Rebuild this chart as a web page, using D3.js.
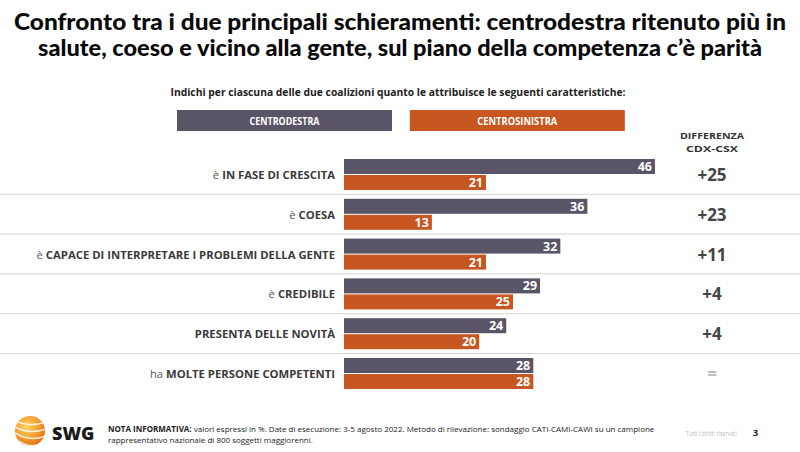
<!DOCTYPE html>
<html><head><meta charset="utf-8">
<script src="https://cdn.jsdelivr.net/npm/d3@7/dist/d3.min.js"></script>
<style>body{margin:0;background:#fff}svg{display:block}</style>
</head><body><svg id="c" width="800" height="452"></svg>
<script>
const categories = [
  {pre:"è ", main:"IN FASE DI CRESCITA"},
  {pre:"è ", main:"COESA"},
  {pre:"è ", main:"CAPACE DI INTERPRETARE I PROBLEMI DELLA GENTE"},
  {pre:"è ", main:"CREDIBILE"},
  {pre:"", main:"PRESENTA DELLE NOVITÀ"},
  {pre:"ha ", main:"MOLTE PERSONE COMPETENTI"}
];
const centrodestra = [46, 36, 32, 29, 24, 28];
const centrosinistra = [21, 13, 21, 25, 20, 28];
const differenze = ["+25", "+23", "+11", "+4", "+4", "="];
const seriesNames = ["CENTRODESTRA", "CENTROSINISTRA"];
const titleLines = ["Confronto tra i due principali schieramenti: centrodestra ritenuto più in",
                    "salute, coeso e vicino alla gente, sul piano della competenza c’è parità"];
const subtitle = "Indichi per ciascuna delle due coalizioni quanto le attribuisce le seguenti caratteristiche:";
const diffHeader = ["DIFFERENZA", "CDX-CSX"];
const noteLines = [["NOTA INFORMATIVA:", " valori espressi in %. Date di esecuzione: 3-5 agosto 2022. Metodo di rilevazione: sondaggio CATI-CAMI-CAWI su un campione"],
                   ["", "rappresentativo nazionale di 800 soggetti maggiorenni."]];

const C1 = "#5a5467", C2 = "#c85620";
const svg = d3.select("#c");
const F = "'Open Sans', sans-serif";

// Title
svg.selectAll("text.title").data(titleLines).join("text")
  .attr("x", 400).attr("y", (d,i)=>30 + i*26).attr("text-anchor","middle")
  .attr("font-family","Lato, sans-serif").attr("font-weight","900").attr("font-size",23)
  .attr("fill","#0a0a0a")
  .attr("textLength",(d,i)=> i===0 ? 772 : 724).attr("lengthAdjust","spacingAndGlyphs")
  .text(d=>d);

svg.append("text").attr("x",398).attr("y",96).attr("text-anchor","middle")
  .attr("font-family",F).attr("font-weight","bold").attr("font-size",11).attr("fill","#222")
  .attr("textLength",455).attr("lengthAdjust","spacingAndGlyphs")
  .text(subtitle);

// Legend
const legX = d3.scaleBand().domain(seriesNames).range([177, 631]).paddingInner(0.05);
const leg = svg.selectAll("g.leg").data(seriesNames).join("g");
leg.append("rect").attr("x",d=>legX(d)).attr("y",110).attr("width",215).attr("height",21)
  .attr("fill",(d,i)=> i===0?C1:C2);
leg.append("text").attr("x",d=>legX(d)+107.5).attr("y",124.5).attr("text-anchor","middle")
  .attr("font-family",F).attr("font-weight","bold").attr("font-size",10.5).attr("fill","#fff")
  .attr("textLength",(d,i)=> i===0 ? 70 : 80).attr("lengthAdjust","spacingAndGlyphs")
  .text(d=>d);

svg.selectAll("text.dh").data(diffHeader).join("text")
  .attr("x",712).attr("y",(d,i)=>138.5+i*13).attr("text-anchor","middle")
  .attr("font-family",F).attr("font-weight","bold").attr("font-size",9.5).attr("fill","#333")
  .attr("textLength",(d,i)=> i===0 ? 64 : 52).attr("lengthAdjust","spacingAndGlyphs")
  .text(d=>d);

// Scales
const y = d3.scaleBand().domain(d3.range(categories.length)).range([155, 155 + 39.8*6]);
const x = d3.scaleLinear().domain([0, 50]).range([344, 344 + 338]);

// Separators
svg.selectAll("line.sep").data(d3.range(1, categories.length)).join("line")
  .attr("x1",0).attr("x2",800).attr("y1",d=>y(d)-0.5).attr("y2",d=>y(d)-0.5)
  .attr("stroke","#d6d6d6").attr("stroke-width",1);

// Bars
const bh = 15;
svg.selectAll("rect.b1").data(centrodestra).join("rect")
  .attr("x",x(0)).attr("y",(d,i)=>y(i)+4).attr("width",d=>x(d)-x(0)).attr("height",bh).attr("fill",C1);
svg.selectAll("rect.b2").data(centrosinistra).join("rect")
  .attr("x",x(0)).attr("y",(d,i)=>y(i)+20).attr("width",d=>x(d)-x(0)).attr("height",bh).attr("fill",C2);

svg.selectAll("text.v1").data(centrodestra).join("text")
  .attr("x",d=>x(d)-3).attr("y",(d,i)=>y(i)+4+12).attr("text-anchor","end")
  .attr("font-family",F).attr("font-weight","bold").attr("font-size",12.5).attr("fill","#fff").text(d=>d);
svg.selectAll("text.v2").data(centrosinistra).join("text")
  .attr("x",d=>x(d)-3).attr("y",(d,i)=>y(i)+20+12).attr("text-anchor","end")
  .attr("font-family",F).attr("font-weight","bold").attr("font-size",12.5).attr("fill","#fff").text(d=>d);

// Category labels
const lab = svg.selectAll("text.cat").data(categories).join("text")
  .attr("x",335).attr("y",(d,i)=>y(i)+24).attr("text-anchor","end")
  .attr("font-family",F).attr("font-size",11.3).attr("fill","#3a3a3a");
lab.append("tspan").attr("fill","#555").text(d=>d.pre);
lab.append("tspan").attr("font-weight","bold").text(d=>d.main);

// Differences
svg.selectAll("text.diff").data(differenze).join("text")
  .attr("x",712).attr("y",(d,i)=>y(i)+26).attr("text-anchor","middle")
  .attr("font-family",F).attr("font-weight","bold").attr("font-size",17)
  .attr("fill",d=> d==="=" ? "#bdbdbd" : "#444").text(d=>d);

// Footer logo
const defs = svg.append("defs");
const rg = defs.append("radialGradient").attr("id","lg").attr("cx","40%").attr("cy","35%").attr("r","70%");
rg.append("stop").attr("offset","0%").attr("stop-color","#ffd36a");
rg.append("stop").attr("offset","55%").attr("stop-color","#f5a030");
rg.append("stop").attr("offset","100%").attr("stop-color","#e06a10");
defs.append("clipPath").attr("id","lc").append("circle").attr("cx",30).attr("cy",431).attr("r",15);
svg.append("circle").attr("cx",30).attr("cy",431).attr("r",15).attr("fill","url(#lg)");
const lgG = svg.append("g").attr("clip-path","url(#lc)");
[0,1,2,3].forEach(k=>{
  lgG.append("path").attr("d",`M ${10+k*2} ${418+k*7} Q ${30} ${430+k*7} ${50} ${420+k*7}`)
    .attr("fill","none").attr("stroke","#fff").attr("stroke-width",1.4).attr("opacity",0.85);
});
svg.append("text").attr("x",52).attr("y",440).attr("font-family","'Open Sans', sans-serif")
  .attr("font-weight","800").attr("font-size",18).attr("fill","#1a1a1a").text("SWG");

const note = svg.selectAll("text.note").data(noteLines).join("text")
  .attr("x",108).attr("y",(d,i)=>432+i*11).attr("font-family",F).attr("font-size",8).attr("fill","#222");
note.append("tspan").attr("font-weight","bold").text(d=>d[0]);
note.append("tspan").text(d=>d[1]);

svg.append("g").attr("transform","translate(686,436) scale(0.72,1)")
  .append("text").attr("x",0).attr("y",0).attr("font-family",F).attr("font-size",7.5)
  .attr("fill","#bbb").text("Tutti i diritti riservati");
svg.append("text").attr("x",753).attr("y",436).attr("font-family",F).attr("font-weight","bold")
  .attr("font-size",9).attr("fill","#222").text("3");
</script></body></html>
